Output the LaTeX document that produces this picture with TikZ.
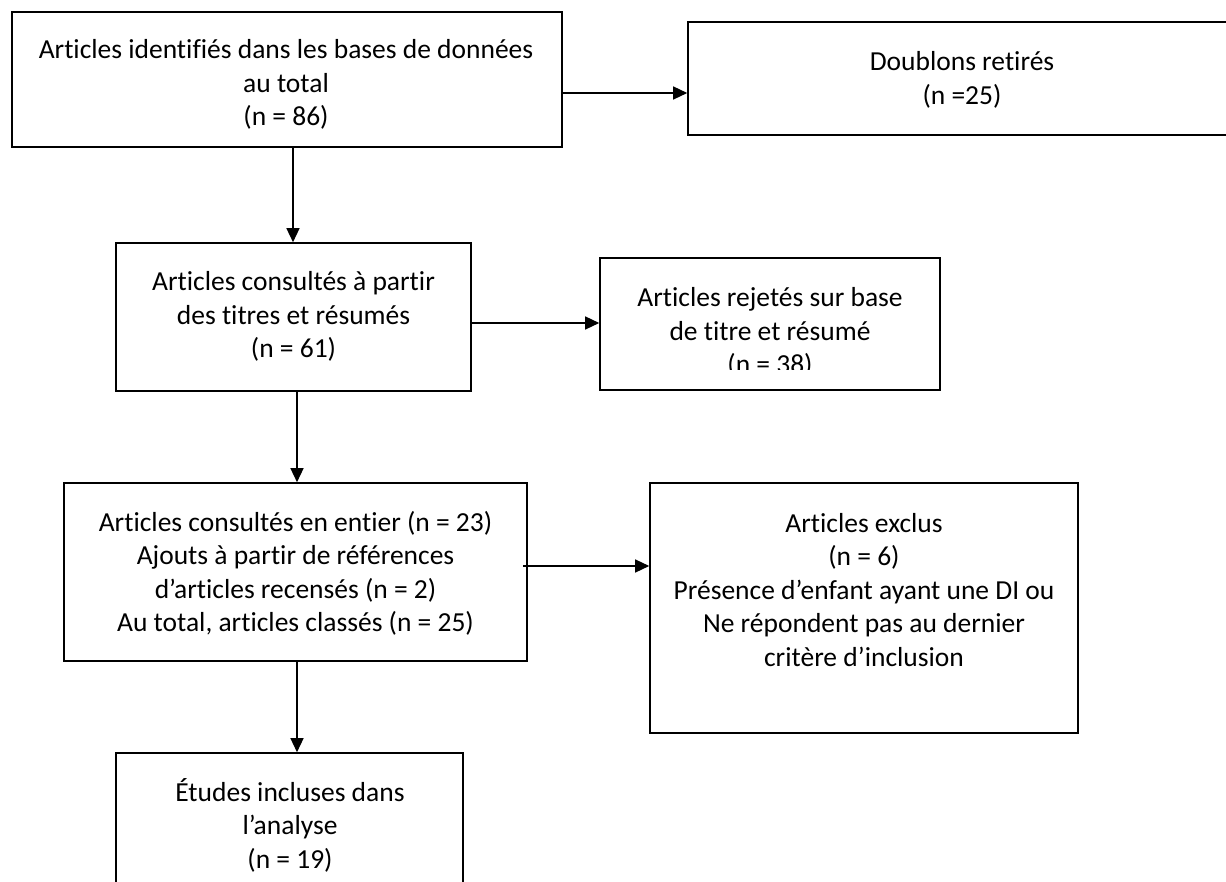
\documentclass[tikz,border=0pt]{standalone}
\usepackage{fontspec}
\setmainfont{Carlito}[Ligatures=NoCommon]
\usetikzlibrary{arrows.meta}
\newcommand\boxlines[1]{\begin{tabular}[t]{@{}c@{}}#1\end{tabular}}
\begin{document}
\begin{tikzpicture}[x=1pt,y=-1pt,
  box/.style={draw=black, line width=1.6pt, inner sep=0pt},
  txt/.style={anchor=base, inner sep=0pt, font=\fontsize{27.5pt}{33.5pt}\selectfont, text=black},
  arr/.style={line width=1.4pt, -{Triangle[length=14pt,width=13pt]}}]
\clip (0,0) rectangle (1226,882);
\fill[white] (0,0) rectangle (1226,882);

% boxes
\node[box, minimum width=550pt, minimum height=135pt] (b1) at (287,79.5) {};
\node[box, minimum width=548pt, minimum height=113pt] (b2) at (962,78.5) {};
\node[box, minimum width=355pt, minimum height=148pt] (b3) at (293.5,317) {};
\node[box, minimum width=340pt, minimum height=132pt] (b4) at (770,324) {};
\node[box, minimum width=463pt, minimum height=178pt] (b5) at (295.5,572) {};
\node[box, minimum width=428pt, minimum height=250pt] (b6) at (864,608) {};
\node[box, minimum width=347pt, minimum height=152pt] (b7) at (289.5,829) {};

% texts
\node[txt] (t1) at (286,59) {\boxlines{Articles identifiés dans les bases de données\\au total\\(n = 86)}};
\node[txt] (t2) at (962,71) {\boxlines{Doublons retirés\\(n =25)}};
\node[txt] (t3) at (293.5,291) {\boxlines{Articles consultés à partir\\des titres et résumés\\(n = 61)}};
\begin{scope}
\clip (600,258) rectangle (940,370);
\node[txt] (t4) at (770,307) {\boxlines{Articles rejetés sur base\\de titre et résumé\\(n = 38)}};
\end{scope}
\node[txt] (t5) at (295.5,531) {\boxlines{Articles consultés en entier (n = 23)\\Ajouts à partir de références\\d’articles recensés (n = 2)\\Au total, articles classés (n = 25)}};
\node[txt] (t6) at (864,532) {\boxlines{Articles exclus\\(n = 6)\\Présence d’enfant ayant une DI ou\\Ne répondent pas au dernier\\critère d’inclusion}};
\node[txt] (t7) at (290,801) {\boxlines{Études incluses dans\\l’analyse\\(n = 19)}};

% connectors
\draw[arr] ([yshift=-13.5pt]b1.east) -- ([yshift=-13.5pt]b1.east -| b2.west);
\draw[arr] ([xshift=6pt]b1.south) -- ([xshift=6pt]b1.south |- b3.north);
\draw[arr] ([yshift=-6pt]b3.east) -- ([yshift=-6pt]b3.east -| b4.west);
\draw[arr] ([xshift=3.5pt]b3.south) -- ([xshift=3.5pt]b3.south |- b5.north);
\draw[arr] ([xshift=-5pt,yshift=6pt]b5.east) -- ([yshift=6pt]b5.east -| b6.west);
\draw[arr] ([xshift=1.5pt]b5.south) -- ([xshift=1.5pt]b5.south |- b7.north);
\end{tikzpicture}
\end{document}
